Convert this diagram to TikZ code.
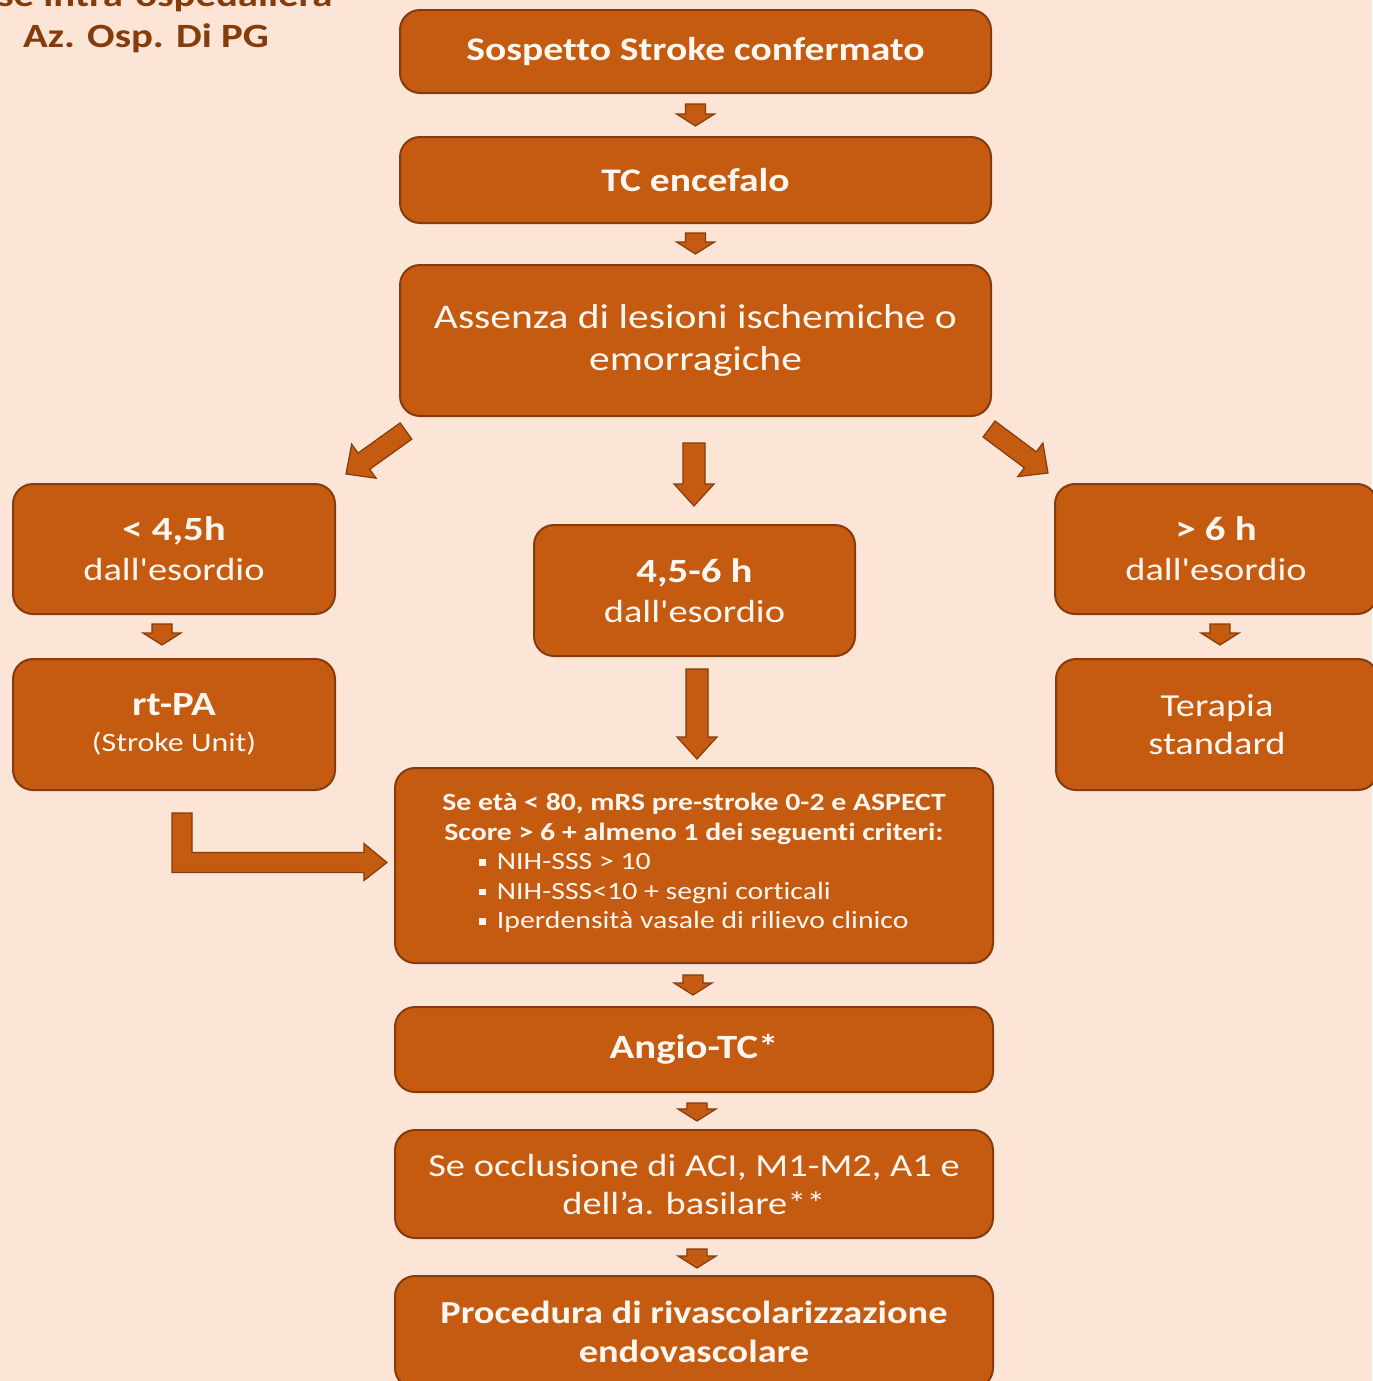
\documentclass[tikz,border=0pt]{standalone}
\usepackage{fontspec}
\setmainfont{Carlito}[FakeStretch=1.2,Ligatures=CommonOff]
\newfontfamily\straightfont{Carlito}[FakeStretch=1.2,Ligatures={TeXOff,CommonOff}]
\usetikzlibrary{calc}
\definecolor{bg}{HTML}{FCE4D6}
\definecolor{boxfill}{HTML}{C55A11}
\definecolor{boxline}{HTML}{843C0C}
\definecolor{boxtext}{HTML}{FFF7F0}
\definecolor{titletext}{HTML}{843C0C}
\tikzset{
  box/.style={draw=boxline, line width=1pt, fill=boxfill, rounded corners=10pt,
    text=boxtext, align=center, inner sep=2pt},
  blockarrow/.style={draw=boxline, line width=0.6pt, fill=boxfill, line join=miter},
}
% block arrow: from, to, half shaft width, half head width, head length
\newcommand\barr[5]{%
  \filldraw[blockarrow] let \p1=(#1), \p2=(#2),
    \n1={atan2(\y2-\y1,\x2-\x1)}, \n2={veclen(\x2-\x1,\y2-\y1)} in
    ($(\p1)+(\n1+90:#3)$) -- ($(\p1)+(\n1:\n2-#5)+(\n1+90:#3)$)
    -- ($(\p1)+(\n1:\n2-#5)+(\n1+90:#4)$) -- (\p2)
    -- ($(\p1)+(\n1:\n2-#5)+(\n1-90:#4)$) -- ($(\p1)+(\n1:\n2-#5)+(\n1-90:#3)$)
    -- ($(\p1)+(\n1-90:#3)$) -- cycle;}
\newcommand\sqbullet{\raisebox{2pt}{\rule{3.3pt}{3.3pt}}\hspace{5.5pt}}
\newcommand\dall{{\straightfont dall'esordio}}
\begin{document}
\begin{tikzpicture}[x=0.5pt,y=-0.5pt]
\useasboundingbox (0,0) rectangle (1372,1381);
\fill[bg] (0,0) rectangle (1372,1381);

% title
\node[text=titletext, font=\bfseries\fontsize{17}{20}\selectfont] (t1) at (146,-3) {Fase intra-ospedaliera};
\node[text=titletext, font=\bfseries\fontsize{17}{20}\selectfont] (t2) at (146,38) {Az. Osp. Di PG};

% boxes
\node[box, minimum width=295.5pt, minimum height=41.5pt, font=\bfseries\fontsize{16.5}{20}\selectfont] (b1) at (695.5,51.5) {Sospetto Stroke confermato};
\node[box, minimum width=295.5pt, minimum height=43pt, font=\bfseries\fontsize{16.5}{20}\selectfont] (b2) at (695.5,180) {TC encefalo};
\node[box, minimum width=295.5pt, minimum height=75.5pt, font=\fontsize{17.3}{21}\selectfont] (b3) at (695.5,340.5) {Assenza di lesioni ischemiche o\\emorragiche};
\node[box, minimum width=161pt, minimum height=65pt, font=\fontsize{16}{20}\selectfont] (b4) at (174,549) {{\bfseries\fontsize{17}{20}\selectfont < 4,5h}\\\dall};
\node[box, minimum width=160.5pt, minimum height=65.5pt, font=\fontsize{16}{20}\selectfont] (b5) at (694.5,590.5) {{\bfseries\fontsize{17}{20}\selectfont 4,5-6 h}\\\dall};
\node[box, minimum width=161pt, minimum height=65pt, font=\fontsize{16}{20}\selectfont] (b6) at (1216,549) {{\bfseries\fontsize{17}{20}\selectfont > 6 h}\\\dall};
\node[box, minimum width=161pt, minimum height=65.5pt, font=\fontsize{13.3}{19}\selectfont] (b7) at (174,724.5) {\raisebox{-2pt}{\bfseries\fontsize{17}{19}\selectfont rt-PA}\\\raisebox{-1pt}{(Stroke Unit)}};
\node[box, minimum width=161pt, minimum height=65.5pt, font=\fontsize{16}{19}\selectfont] (b8) at (1217,724.5) {Terapia\\standard};
\node[box, minimum width=299pt, minimum height=97.5pt, font=\bfseries\fontsize{12.4}{14.8}\selectfont] (b9) at (694,865.5)
  {Se età < 80, mRS pre-stroke 0-2 e ASPECT\\Score > 6 + almeno 1 dei seguenti criteri:\\
   {\mdseries\begin{tabular}[t]{@{}l@{}}\sqbullet NIH-SSS > 10\\ \sqbullet NIH-SSS<10 + segni corticali\\ \sqbullet Iperdensità vasale di rilievo clinico\end{tabular}}};
\node[box, minimum width=299pt, minimum height=42.5pt, font=\bfseries\fontsize{17}{20}\selectfont] (b10) at (694,1049.5) {Angio-TC*};
\node[box, minimum width=299pt, minimum height=54pt, font=\fontsize{16}{19}\selectfont] (b11) at (694,1184) {Se occlusione di ACI, M1-M2, A1 e\\dell’a. basilare**};
\node[box, minimum width=299pt, minimum height=56pt, font=\bfseries\fontsize{16}{19.5}\selectfont] (b12) at (694,1332) {Procedura di rivascolarizzazione\\endovascolare};

% small arrows
\barr{$(b1.south)+(0,10)$}{$(b2.north)+(0,-10)$}{5pt}{9.5pt}{6pt}
\barr{$(b2.south)+(0,9)$}{$(b3.north)+(0,-10)$}{5pt}{9.5pt}{6pt}
\barr{$(b4.south)+(-12,9)$}{$(b7.north)+(-12,-13)$}{5pt}{9.5pt}{6pt}
\barr{$(b6.south)+(4,9)$}{$(b8.north)+(3,-13)$}{5pt}{9.5pt}{6pt}
\barr{$(b9.south)+(-1,11)$}{$(b10.north)+(-1,-11)$}{5pt}{9.5pt}{6pt}
\barr{$(b10.south)+(3,10)$}{$(b11.north)+(3,-8)$}{5pt}{9.5pt}{6pt}
\barr{$(b11.south)+(3,10)$}{$(b12.north)+(3,-7)$}{5pt}{9.5pt}{6pt}

% large arrows
\barr{$(b3.south)+(-1.5,26)$}{$(b5.north)+(-0.5,-18)$}{5.5pt}{10pt}{11pt}
\barr{$(b5.south)+(2.5,12)$}{$(b9.north)+(3,-8)$}{5.5pt}{10pt}{11pt}
\barr{$(b3.south west)+(7,14)$}{$(b4.north east)+(10,-9)$}{5pt}{10.5pt}{11pt}
\barr{$(b3.south east)+(-3,12)$}{$(b6.north west)+(-6,-10)$}{5pt}{10.5pt}{11pt}

% bent arrow from rt-PA to criteria box
\coordinate (bA) at ($(b7.south)+(8,22)$);
\coordinate (bTip) at ($(b9.west)+(-7,-3)$);
\filldraw[blockarrow] ($(bA)+(-10,0)$) -- ($(bA)+(10,0)$) |- ($(bTip)+(-23,-10)$)
  -- ($(bTip)+(-23,-19)$) -- (bTip) -- ($(bTip)+(-23,18)$) -- ($(bTip)+(-23,10)$)
  -| cycle;
\end{tikzpicture}
\end{document}
